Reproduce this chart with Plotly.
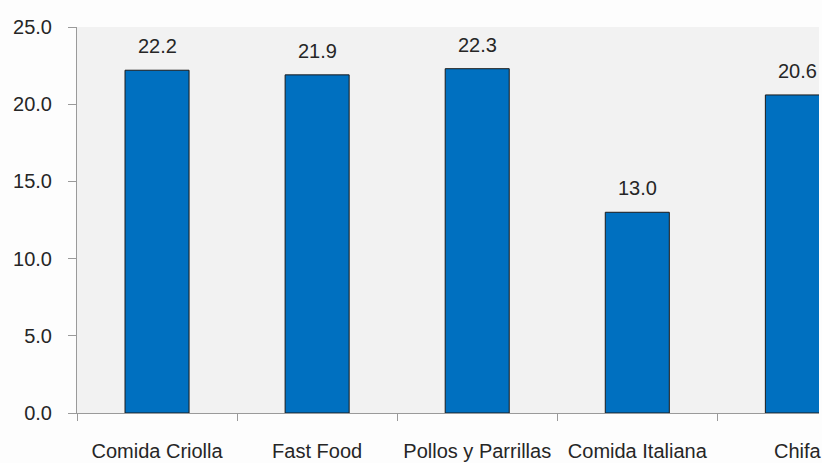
import plotly.graph_objects as go

# Average values by restaurant type
categories = ["Comida Criolla", "Fast Food", "Pollos y Parrillas", "Comida Italiana", "Chifa"]
values = [22.2, 21.9, 22.3, 13.0, 20.6]
y_ticks = [0, 5, 10, 15, 20, 25]
y_tick_labels = ["0.0", "5.0", "10.0", "15.0", "20.0", "25.0"]

FONT = "Liberation Sans, Arial, sans-serif"
TEXT_COLOR = "#262626"
AXIS_COLOR = "#9a9a9a"

fig = go.Figure()
fig.add_trace(go.Bar(
    x=categories,
    y=values,
    width=0.4,
    marker=dict(color="#0070c0", line=dict(color="#1a1a1a", width=1)),
    hoverinfo="x+y",
))

# Value labels above each bar
for cat, val in zip(categories, values):
    fig.add_annotation(
        x=cat, y=val, text=f"{val:.1f}", showarrow=False,
        yanchor="middle", yshift=24,
        font=dict(family=FONT, size=20, color=TEXT_COLOR),
    )

fig.update_layout(
    width=822, height=463,
    margin=dict(l=77, r=0, t=27, b=50),
    paper_bgcolor="#fdfdfd",
    plot_bgcolor="#f2f2f2",
    showlegend=False,
    bargap=0.6,
    font=dict(family=FONT, size=20, color=TEXT_COLOR),
    xaxis=dict(
        type="category",
        range=[-0.5, 4.135],
        showline=True, linecolor=AXIS_COLOR, linewidth=1,
        ticks="outside", tickson="boundaries", ticklen=7, tickcolor=AXIS_COLOR,
        ticklabelstandoff=20,
        showgrid=False, zeroline=False,
        tickfont=dict(family=FONT, size=20, color=TEXT_COLOR),
    ),
    yaxis=dict(
        range=[0, 25],
        tickvals=y_ticks, ticktext=y_tick_labels,
        showline=True, linecolor=AXIS_COLOR, linewidth=1,
        ticks="outside", ticklen=8, tickcolor=AXIS_COLOR,
        ticklabelstandoff=12,
        showgrid=False, zeroline=False,
        tickfont=dict(family=FONT, size=20, color=TEXT_COLOR),
    ),
)

fig.write_html("out.html")
